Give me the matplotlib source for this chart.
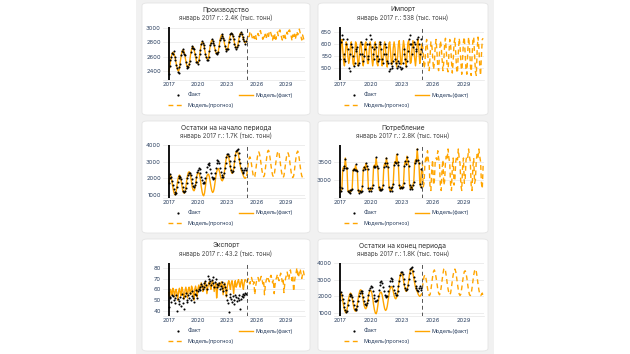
import numpy as np
import matplotlib
matplotlib.use("Agg")
import matplotlib.pyplot as plt
from matplotlib.patches import FancyBboxPatch
from matplotlib.lines import Line2D

plt.rcParams['font.family'] = ['Inter', 'DejaVu Sans']

# ---------------- DATA ----------------
titles = ["Производство", "Импорт", "Остатки на начало периода",
          "Потребление", "Экспорт", "Остатки на конец периода"]
subtitles = ["январь 2017 г.: 2.4K (тыс. тонн)", "январь 2017 г.: 538 (тыс. тонн)",
             "январь 2017 г.: 1.7K (тыс. тонн)", "январь 2017 г.: 2.8K (тыс. тонн)",
             "январь 2017 г.: 43.2 (тыс. тонн)", "январь 2017 г.: 1.8K (тыс. тонн)"]
x_ticks = [2017, 2020, 2023, 2026, 2029]
y_ticks = [[2400, 2600, 2800, 3000], [500, 550, 600, 650], [1000, 2000, 3000, 4000],
           [3000, 3500], [40, 50, 60, 70, 80], [1000, 2000, 3000, 4000]]
y_limits = [(2277, 3010), (451, 672), (815, 4018), (2492, 3960), (35.3, 84.4), (815, 4018)]
fact_start = 2017      # monthly, Jan 2017 .. Dec 2024
fc_start = 2025        # monthly, Jan 2025 .. Dec 2030
split_year = 2025

prod_fact = [2360, 2470, 2560, 2590, 2650, 2640, 2680, 2600, 2560, 2490, 2440, 2390,
             2380, 2450, 2500, 2620, 2680, 2700, 2670, 2640, 2620, 2520, 2470, 2440,
             2460, 2500, 2540, 2660, 2720, 2750, 2720, 2700, 2630, 2600, 2530, 2520,
             2500, 2560, 2640, 2690, 2780, 2810, 2790, 2760, 2720, 2640, 2590, 2560,
             2550, 2600, 2680, 2760, 2790, 2840, 2820, 2790, 2760, 2690, 2650, 2630,
             2650, 2660, 2750, 2830, 2860, 2910, 2890, 2860, 2830, 2750, 2710, 2680,
             2700, 2710, 2800, 2850, 2910, 2930, 2910, 2880, 2850, 2780, 2740, 2710,
             2730, 2760, 2810, 2890, 2910, 2940, 2910, 2870, 2850, 2820, 2780, 2810]
prod_model = [2390, 2450, 2530, 2600, 2640, 2660, 2650, 2620, 2570, 2510, 2450, 2410,
              2400, 2430, 2520, 2600, 2660, 2690, 2690, 2660, 2600, 2540, 2480, 2450,
              2450, 2480, 2560, 2640, 2700, 2730, 2740, 2710, 2650, 2590, 2540, 2510,
              2510, 2540, 2620, 2700, 2770, 2800, 2800, 2770, 2710, 2650, 2600, 2570,
              2560, 2590, 2670, 2750, 2800, 2830, 2830, 2800, 2750, 2700, 2660, 2640,
              2640, 2670, 2740, 2820, 2870, 2900, 2900, 2870, 2820, 2760, 2720, 2690,
              2690, 2720, 2790, 2860, 2900, 2920, 2920, 2890, 2840, 2790, 2750, 2720,
              2720, 2750, 2820, 2880, 2920, 2930, 2920, 2880, 2840, 2810, 2790, 2800]
prod_fc = [2820, 2860, 2900, 2870, 2930, 2950, 2900, 2860, 2830, 2880, 2850, 2900,
           2840, 2880, 2920, 2890, 2940, 2960, 2910, 2870, 2840, 2890, 2860, 2910,
           2850, 2890, 2930, 2880, 2950, 2960, 2920, 2880, 2830, 2900, 2850, 2910,
           2840, 2900, 2940, 2890, 2950, 2970, 2920, 2870, 2830, 2890, 2860, 2920,
           2850, 2900, 2940, 2900, 2960, 2970, 2920, 2880, 2820, 2900, 2850, 2910,
           2840, 2890, 2950, 2900, 2960, 2980, 2930, 2880, 2830, 2900, 2860, 2820]

imp_fact = [538, 610, 640, 620, 560, 540, 530, 600, 620, 580, 500, 490,
            560, 600, 590, 550, 510, 520, 580, 570, 590, 515, 520, 560,
            610, 600, 560, 530, 550, 580, 620, 600, 550, 540, 600, 640,
            620, 590, 560, 540, 580, 600, 590, 550, 530, 540, 600, 610,
            580, 540, 520, 560, 600, 590, 560, 530, 520, 490, 495, 520,
            500, 510, 530, 560, 540, 520, 500, 510, 530, 520, 505, 495,
            500, 520, 560, 580, 540, 510, 530, 570, 620, 600, 640, 600,
            560, 590, 610, 600, 580, 570, 620, 630, 600, 560, 580, 620]
imp_model = [530, 600, 620, 580, 530, 510, 560, 610, 600, 550, 520, 540,
             590, 610, 570, 520, 510, 560, 610, 600, 550, 510, 530, 590,
             610, 580, 530, 510, 550, 600, 610, 560, 520, 520, 580, 610,
             590, 540, 510, 540, 600, 610, 570, 520, 510, 570, 610, 600,
             550, 510, 530, 590, 610, 580, 530, 505, 550, 605, 610, 560,
             515, 520, 585, 610, 585, 530, 505, 545, 600, 615, 565, 515,
             520, 580, 615, 590, 535, 505, 545, 605, 615, 570, 520, 525,
             585, 615, 590, 540, 510, 550, 605, 620, 570, 520, 540, 600]
imp_fc = [600, 560, 500, 520, 590, 620, 580, 510, 490, 550, 610, 600,
          550, 495, 520, 590, 620, 570, 505, 490, 560, 615, 595, 540,
          490, 525, 600, 625, 570, 500, 485, 560, 620, 600, 530, 480,
          530, 605, 625, 565, 495, 480, 565, 625, 595, 525, 475, 540,
          610, 630, 560, 490, 475, 570, 630, 590, 520, 470, 545, 615,
          630, 555, 485, 470, 575, 630, 585, 510, 470, 555, 620, 625]

beg_fact = [1700, 2050, 2250, 2100, 1850, 1600, 1350, 1150, 1050, 1100, 1450, 1800,
            2000, 2150, 2100, 1950, 1700, 1450, 1250, 1150, 1250, 1400, 1700, 2000,
            2200, 2300, 2350, 2200, 1950, 1700, 1550, 1500, 1600, 1800, 2100, 2400,
            2500, 2600, 2550, 2350, 2100, 1900, 1750, 1700, 1800, 2050, 2400, 2700,
            2850, 2900, 2800, 2550, 2300, 2100, 2000, 1950, 2050, 2300, 2650, 2950,
            3100, 3050, 2900, 2650, 2400, 2200, 2100, 2100, 2300, 2600, 2950, 3300,
            3450, 3500, 3350, 3050, 2750, 2500, 2400, 2450, 2700, 3050, 3400, 3650,
            3700, 3750, 3550, 3200, 2900, 2650, 2500, 2400, 2350, 2500, 2600, 2500]
beg_model = [1750, 2100, 2200, 2050, 1750, 1450, 1200, 1050, 1000, 1200, 1550, 1900,
             2100, 2200, 2150, 1900, 1600, 1300, 1150, 1100, 1200, 1500, 1850, 2150,
             2350, 2400, 2350, 2100, 1750, 1450, 1300, 1250, 1350, 1650, 2000, 2250,
             2350, 2350, 2200, 1900, 1500, 1200, 1000, 950, 1100, 1450, 1850, 2150,
             2250, 2250, 2100, 1800, 1500, 1250, 1150, 1200, 1400, 1750, 2100, 2400,
             2550, 2600, 2500, 2300, 2050, 1900, 1850, 1950, 2200, 2550, 2950, 3250,
             3400, 3400, 3250, 2950, 2650, 2400, 2300, 2350, 2600, 2950, 3350, 3600,
             3650, 3600, 3400, 3100, 2800, 2550, 2400, 2300, 2150, 2050, 2000, 2050]
beg_fc = [2150, 2500, 2900, 3200, 3300, 3150, 2850, 2500, 2200, 2050, 2100, 2400,
          2800, 3200, 3500, 3600, 3450, 3150, 2800, 2450, 2200, 2100, 2200, 2550,
          2950, 3350, 3650, 3700, 3550, 3200, 2800, 2450, 2200, 2100, 2200, 2550,
          2950, 3300, 3550, 3650, 3500, 3150, 2750, 2400, 2150, 2050, 2150, 2500,
          2900, 3250, 3500, 3550, 3400, 3100, 2700, 2350, 2100, 2050, 2150, 2500,
          2900, 3300, 3550, 3650, 3500, 3150, 2750, 2400, 2150, 2050, 2100, 2200]

cons_fact = [2800, 2680, 2760, 3280, 3370, 3310, 3580, 3330, 3320, 2690, 2660, 2720,
             2640, 2720, 2740, 3270, 3290, 3260, 3420, 3280, 3240, 2710, 2640, 2690,
             2670, 2690, 2820, 3280, 3360, 3290, 3470, 3370, 3290, 2760, 2690, 2760,
             2690, 2760, 2840, 3360, 3390, 3360, 3620, 3390, 3310, 2790, 2720, 2740,
             2710, 2740, 2860, 3340, 3460, 3390, 3590, 3460, 3340, 2810, 2690, 2760,
             2690, 2810, 2890, 3410, 3490, 3460, 3710, 3490, 3410, 2840, 2760, 2790,
             2760, 2790, 2910, 3390, 3510, 3440, 3640, 3510, 3390, 2860, 2740, 2810,
             2740, 2860, 2940, 3460, 3540, 3510, 3860, 3540, 3460, 2890, 2810, 3290]
cons_model = [2650, 2700, 2750, 3300, 3350, 3300, 3600, 3350, 3300, 2700, 2650, 2700,
              2650, 2700, 2750, 3250, 3300, 3250, 3400, 3300, 3250, 2700, 2650, 2700,
              2650, 2700, 2800, 3300, 3350, 3300, 3450, 3350, 3300, 2750, 2700, 2750,
              2700, 2750, 2850, 3350, 3400, 3350, 3600, 3400, 3300, 2800, 2700, 2750,
              2700, 2750, 2850, 3350, 3450, 3400, 3600, 3450, 3350, 2800, 2700, 2750,
              2700, 2800, 2900, 3400, 3500, 3450, 3700, 3500, 3400, 2850, 2750, 2800,
              2750, 2800, 2900, 3400, 3500, 3450, 3650, 3500, 3400, 2850, 2750, 2800,
              2750, 2850, 2950, 3450, 3550, 3500, 3850, 3550, 3450, 2900, 2800, 3300]
cons_fc = [3500, 2800, 2900, 3450, 3600, 3500, 3800, 3550, 3400, 2800, 2700, 3300,
           3550, 2850, 2950, 3500, 3600, 3550, 3800, 3600, 3450, 2850, 2700, 3300,
           3550, 2850, 2950, 3500, 3650, 3550, 3850, 3600, 3450, 2850, 2700, 3350,
           3600, 2850, 3000, 3500, 3650, 3550, 3850, 3600, 3450, 2850, 2700, 3350,
           3600, 2900, 3000, 3550, 3650, 3600, 3850, 3650, 3500, 2850, 2700, 3350,
           3600, 2900, 3000, 3550, 3700, 3600, 3850, 3650, 3500, 2900, 2750, 3400]

exp_fact = [43.2, 53, 52, 48, 55, 54, 50, 47, 52, 55, 40, 51,
            46, 49, 53, 45, 56, 52, 47, 42, 54, 57, 50, 48,
            55, 52, 57, 50, 54, 58, 52, 48, 56, 59, 55, 52,
            58, 60, 62, 59, 65, 63, 60, 62, 66, 68, 64, 60,
            72, 66, 70, 68, 64, 69, 71, 66, 62, 67, 70, 65,
            62, 64, 66, 60, 63, 67, 61, 58, 65, 62, 59, 55,
            50, 47, 39, 53, 56, 51, 48, 54, 50, 46, 55, 53,
            49, 52, 55, 50, 42, 51, 54, 56, 53, 55, 57, 56]
exp_model = [57, 52, 60, 58, 55, 61, 59, 53, 58, 60, 56, 50,
             58, 61, 57, 54, 62, 60, 55, 51, 59, 62, 58, 52,
             60, 62, 58, 55, 63, 61, 56, 50, 60, 63, 59, 53,
             61, 64, 60, 62, 66, 63, 58, 60, 65, 67, 62, 56,
             62, 65, 67, 63, 60, 66, 68, 64, 58, 63, 66, 52,
             60, 64, 66, 62, 65, 67, 63, 55, 64, 66, 60, 53,
             62, 66, 68, 64, 60, 66, 68, 63, 56, 65, 68, 62,
             64, 67, 69, 65, 62, 67, 69, 64, 60, 66, 69, 68]
exp_fc = [66, 68, 70, 67, 65, 69, 71, 68, 64, 67, 55, 62,
          67, 69, 71, 68, 66, 70, 72, 69, 65, 68, 55, 63,
          68, 70, 72, 69, 67, 71, 73, 70, 66, 69, 56, 64,
          69, 71, 74, 70, 68, 72, 75, 71, 67, 70, 57, 65,
          70, 73, 76, 72, 69, 74, 78, 73, 68, 72, 58, 67,
          72, 75, 80, 74, 71, 76, 79, 75, 70, 74, 77, 73]

end_fact = [1800, 2250, 2100, 1850, 1600, 1350, 1150, 1050, 1100, 1450, 1800, 2000,
            2150, 2100, 1950, 1700, 1450, 1250, 1150, 1250, 1400, 1700, 2000, 2200,
            2300, 2350, 2200, 1950, 1700, 1550, 1500, 1600, 1800, 2100, 2400, 2500,
            2600, 2550, 2350, 2100, 1900, 1750, 1700, 1800, 2050, 2400, 2700, 2850,
            2900, 2800, 2550, 2300, 2100, 2000, 1950, 2050, 2300, 2650, 2950, 3100,
            3050, 2900, 2650, 2400, 2200, 2100, 2100, 2300, 2600, 2950, 3300, 3450,
            3500, 3350, 3050, 2750, 2500, 2400, 2450, 2700, 3050, 3400, 3650, 3700,
            3750, 3550, 3200, 2900, 2650, 2500, 2400, 2350, 2500, 2600, 2500, 2400]
end_model = [2100, 2200, 2050, 1750, 1450, 1200, 1050, 1000, 1200, 1550, 1900, 2100,
             2200, 2150, 1900, 1600, 1300, 1150, 1100, 1200, 1500, 1850, 2150, 2350,
             2400, 2350, 2100, 1750, 1450, 1300, 1250, 1350, 1650, 2000, 2250, 2350,
             2350, 2200, 1900, 1500, 1200, 1000, 950, 1100, 1450, 1850, 2150, 2250,
             2250, 2100, 1800, 1500, 1250, 1150, 1200, 1400, 1750, 2100, 2400, 2550,
             2600, 2500, 2300, 2050, 1900, 1850, 1950, 2200, 2550, 2950, 3250, 3400,
             3400, 3250, 2950, 2650, 2400, 2300, 2350, 2600, 2950, 3350, 3600, 3650,
             3600, 3400, 3100, 2800, 2550, 2400, 2300, 2150, 2050, 2000, 2050, 2150]
end_fc = [2500, 2900, 3200, 3300, 3150, 2850, 2500, 2200, 2050, 2100, 2400, 2800,
          3200, 3500, 3600, 3450, 3150, 2800, 2450, 2200, 2100, 2200, 2550, 2950,
          3350, 3650, 3700, 3550, 3200, 2800, 2450, 2200, 2100, 2200, 2550, 2950,
          3300, 3550, 3650, 3500, 3150, 2750, 2400, 2150, 2050, 2150, 2500, 2900,
          3250, 3500, 3550, 3400, 3100, 2700, 2350, 2100, 2050, 2150, 2500, 2900,
          3300, 3550, 3650, 3500, 3150, 2750, 2400, 2150, 2050, 2100, 2200, 2000]

facts = [prod_fact, imp_fact, beg_fact, cons_fact, exp_fact, end_fact]
models = [prod_model, imp_model, beg_model, cons_model, exp_model, end_model]
forecasts = [prod_fc, imp_fc, beg_fc, cons_fc, exp_fc, end_fc]

# ---------------- LAYOUT ----------------
W, H = 630, 354
fig = plt.figure(figsize=(W / 100, H / 100), dpi=100)
fig.patch.set_facecolor('#ffffff')

ORANGE = '#FFA500'
TXT = '#2a3f5f'

def fx(x):
    return x / W

def fy(y):
    return 1 - y / H

# grey container
fig.add_artist(FancyBboxPatch((fx(136), fy(354)), fx(494) - fx(136), fy(0) - fy(354),
                              boxstyle='square,pad=0', transform=fig.transFigure,
                              facecolor='#f1f1f1', edgecolor='none', zorder=0))

card_lefts = [142, 318]
card_widths = [168, 170]
card_tops = [3, 121, 239]
card_h = 112
ax_lefts = [163, 334]
ax_rights = [305, 484]

t_fact = fact_start + np.arange(len(prod_fact)) / 12
t_fc = fc_start + np.arange(len(prod_fc)) / 12

for i in range(6):
    r, c = divmod(i, 2)
    cl, cw, ct = card_lefts[c], card_widths[c], card_tops[r]
    fig.add_artist(FancyBboxPatch((fx(cl), fy(ct + card_h)), fx(cw), card_h / H,
                                  boxstyle='round,pad=0,rounding_size=0.008',
                                  transform=fig.transFigure, facecolor='white',
                                  edgecolor='#e4e4e4', linewidth=0.6, zorder=1))
    cx = cl + cw / 2
    fig.text(fx(cx), fy(ct + 6.5), titles[i], ha='center', va='center',
             fontsize=4.8, color='#333333', zorder=3)
    fig.text(fx(cx), fy(ct + 14.5), subtitles[i], ha='center', va='center',
             fontsize=4.4, color='#444444', zorder=3)

    top = ct + 24
    bot = top + 53
    ax = fig.add_axes([fx(ax_lefts[c]), fy(bot), fx(ax_rights[c] - ax_lefts[c]), (bot - top) / H])
    ax.set_zorder(2)
    ax.patch.set_alpha(0)
    ax.plot(t_fact, models[i], color=ORANGE, lw=1.0, zorder=3)
    ax.plot(t_fc, forecasts[i], color=ORANGE, lw=1.0, dashes=(3.5, 2.5), zorder=3)
    ax.plot(t_fact, facts[i], 'o', color='black', ms=1.5, mew=0, zorder=4)
    ax.axvline(fact_start, color='black', lw=1.3, zorder=5)
    ax.axvline(split_year, color='#555555', lw=0.7, dashes=(4, 3), zorder=5)
    ax.set_xlim(2016.4, 2031.0)
    ax.set_ylim(*y_limits[i])
    ax.set_xticks(x_ticks)
    ax.set_yticks(y_ticks[i])
    ax.tick_params(length=0, labelsize=4.2, colors=TXT, pad=1.5)
    ax.grid(True, axis='y', color='#e6e6e6', lw=0.5)
    ax.grid(False, axis='x')
    for s in ax.spines.values():
        s.set_visible(False)
    ax.spines['bottom'].set_visible(True)
    ax.spines['bottom'].set_color('#e6e6e6')
    ax.spines['bottom'].set_linewidth(0.5)

    # legend
    ly1, ly2 = ct + 92, ct + 102
    fig.add_artist(Line2D([fx(cl + 36)], [fy(ly1)], marker='o', ms=1.6, mew=0,
                          color='black', linestyle='none', transform=fig.transFigure, zorder=3))
    fig.text(fx(cl + 46), fy(ly1), 'Факт', fontsize=4.0, va='center', ha='left', color=TXT, zorder=3)
    fig.add_artist(Line2D([fx(cl + 97), fx(cl + 111)], [fy(ly1), fy(ly1)], color=ORANGE,
                          lw=1.0, transform=fig.transFigure, zorder=3))
    fig.text(fx(cl + 114), fy(ly1), 'Модель(факт)', fontsize=4.0, va='center', ha='left', color=TXT, zorder=3)
    fig.add_artist(Line2D([fx(cl + 26), fx(cl + 41)], [fy(ly2), fy(ly2)], color=ORANGE,
                          lw=1.0, dashes=(3.5, 2.5), transform=fig.transFigure, zorder=3))
    fig.text(fx(cl + 46), fy(ly2), 'Модель(прогноз)', fontsize=4.0, va='center', ha='left', color=TXT, zorder=3)

fig.savefig('out.png', dpi=100, facecolor=fig.get_facecolor())
